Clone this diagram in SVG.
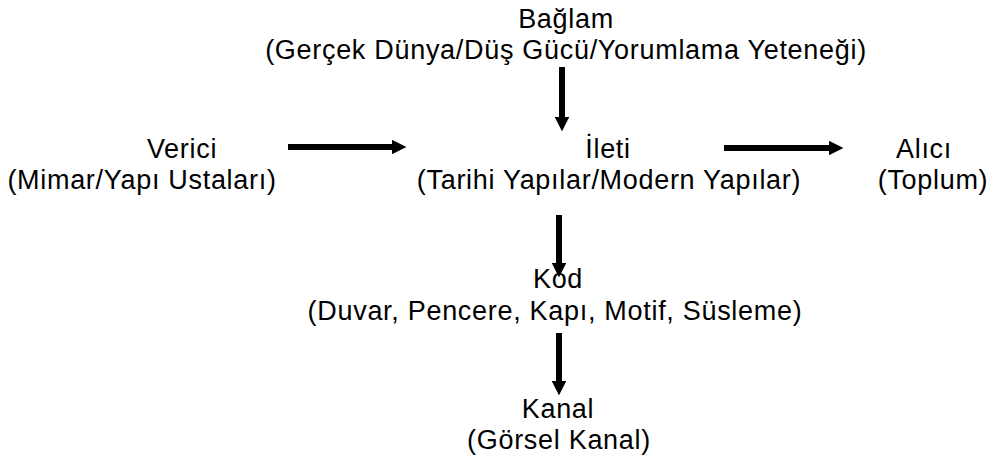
<svg xmlns="http://www.w3.org/2000/svg" width="991" height="459" viewBox="0 0 991 459">
<defs>
<style>
text{font-family:"Liberation Sans",Arial,sans-serif;font-size:27px;letter-spacing:0.7px;fill:#000;text-anchor:middle}
.c{stroke:#000;stroke-width:6;fill:none}
</style>
<marker id="ah" viewBox="0 0 10 10" refX="0" refY="5" markerWidth="2.4" markerHeight="2.4" markerUnits="strokeWidth" orient="auto">
<path d="M0,0 L10,5 L0,10 z" fill="#000"/>
</marker>
</defs>
<rect width="991" height="459" fill="#fff"/>
<g id="baglam"><text x="566" y="28">Bağlam</text><text x="566" y="59">(Gerçek Dünya/Düş Gücü/Yorumlama Yeteneği)</text></g>
<g id="verici"><text x="182" y="158">Verici</text><text x="142" y="189">(Mimar/Yapı Ustaları)</text></g>
<g id="ileti"><text x="608" y="158">İleti</text><text x="609" y="189">(Tarihi Yapılar/Modern Yapılar)</text></g>
<g id="alici"><text x="924" y="158">Alıcı</text><text x="933" y="189">(Toplum)</text></g>
<g id="kod"><text x="558" y="288">Kod</text><text x="555" y="320">(Duvar, Pencere, Kapı, Motif, Süsleme)</text></g>
<g id="kanal"><text x="558" y="418">Kanal</text><text x="559" y="449">(Görsel Kanal)</text></g>
<g id="connectors">
<line class="c" x1="288" y1="147" x2="392" y2="147" marker-end="url(#ah)"/>
<line class="c" x1="724" y1="148" x2="829" y2="148" marker-end="url(#ah)"/>
<line class="c" x1="562" y1="67" x2="562" y2="117" marker-end="url(#ah)"/>
<line class="c" x1="559" y1="215" x2="559" y2="263" marker-end="url(#ah)"/>
<line class="c" x1="559" y1="333" x2="559" y2="381" marker-end="url(#ah)"/>
</g>
</svg>
